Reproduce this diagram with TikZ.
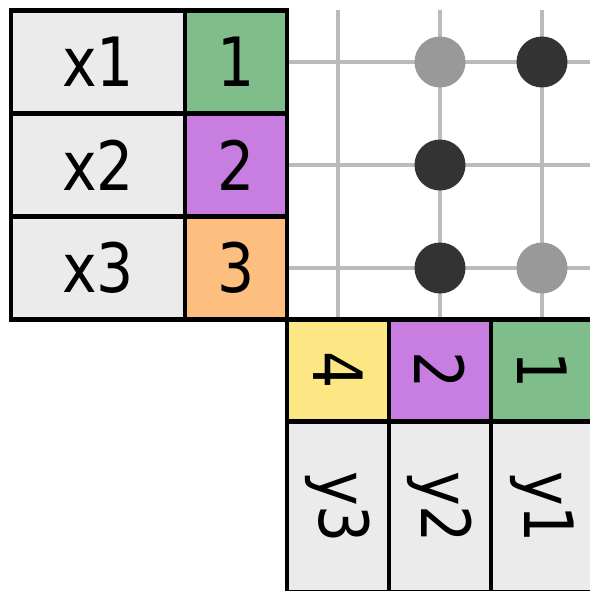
\documentclass[tikz,border=0pt]{standalone}
\usepackage{fontspec}
\usepackage{tikz}
\usetikzlibrary{positioning,backgrounds}
\newfontfamily\cellfont[FakeStretch=0.86]{DejaVu Sans}
\definecolor{cellgray}{HTML}{EBEBEB}
\definecolor{idgreen}{HTML}{7FBD8B}
\definecolor{idpurple}{HTML}{C87DE1}
\definecolor{idorange}{HTML}{FDBF7F}
\definecolor{idyellow}{HTML}{FDE785}
\definecolor{gridgray}{HTML}{BBBBBB}
\definecolor{dotlight}{HTML}{999999}
\definecolor{dotdark}{HTML}{333333}

\begin{document}
\begin{tikzpicture}[x=1pt,y=-1pt,
  cellbox/.style={draw=black,line width=4.6pt,outer sep=0pt,inner sep=0pt,
                  font=\cellfont\fontsize{68}{68}\selectfont},
  namecell/.style={cellbox,fill=cellgray,minimum width=174pt,minimum height=103pt},
  idcell/.style={cellbox,minimum width=102pt,minimum height=103pt},
  colname/.style={cellbox,fill=cellgray,minimum width=102pt,minimum height=171pt},
  gridline/.style={draw=gridgray,line width=3.4pt},
  hit/.style={circle,inner sep=0pt,minimum size=51pt}]
\useasboundingbox (0,0) rectangle (589,591);

% row table
\node[namecell] (x1) at (98,62) {x1};
\node[namecell,below=0pt of x1] (x2) {x2};
\node[namecell,below=0pt of x2] (x3) {x3};
\node[idcell,fill=idgreen,right=0pt of x1] (n1) {1};
\node[idcell,fill=idpurple,right=0pt of x2] (n2) {2};
\node[idcell,fill=idorange,right=0pt of x3] (n3) {3};

% column table, turned
\node[idcell,fill=idyellow,anchor=north west,minimum height=102pt] (ny3) at (n3.south east) {\rotatebox{-90}{4}};
\node[idcell,fill=idpurple,minimum height=102pt,right=0pt of ny3] (ny2) {\rotatebox{-90}{2}};
\node[idcell,fill=idgreen,minimum height=102pt,right=0pt of ny2] (ny1) {\rotatebox{-90}{1}};
\node[colname,below=0pt of ny3] (y3) {\rotatebox{-90}{y3}};
\node[colname,below=0pt of ny2] (y2) {\rotatebox{-90}{y2}};
\node[colname,below=0pt of ny1] (y1) {\rotatebox{-90}{y1}};

% grid and hits
\coordinate (gtop) at (0,10);
\coordinate (gright) at (595,0);
\begin{scope}[on background layer]
  \draw[gridline] (ny3.north) -- (ny3.north |- gtop);
  \draw[gridline] (ny2.north) -- (ny2.north |- gtop);
  \draw[gridline] (ny1.north) -- (ny1.north |- gtop);
  \draw[gridline] (n1.east) -- (n1.east -| gright);
  \draw[gridline] (n2.east) -- (n2.east -| gright);
  \draw[gridline] (n3.east) -- (n3.east -| gright);
  \node[hit,fill=dotlight] (h12) at (ny2 |- n1) {};
  \node[hit,fill=dotdark] (h11) at (ny1 |- n1) {};
  \node[hit,fill=dotdark] (h22) at (ny2 |- n2) {};
  \node[hit,fill=dotdark] (h32) at (ny2 |- n3) {};
  \node[hit,fill=dotlight] (h31) at (ny1 |- n3) {};
\end{scope}
\end{tikzpicture}
\end{document}
